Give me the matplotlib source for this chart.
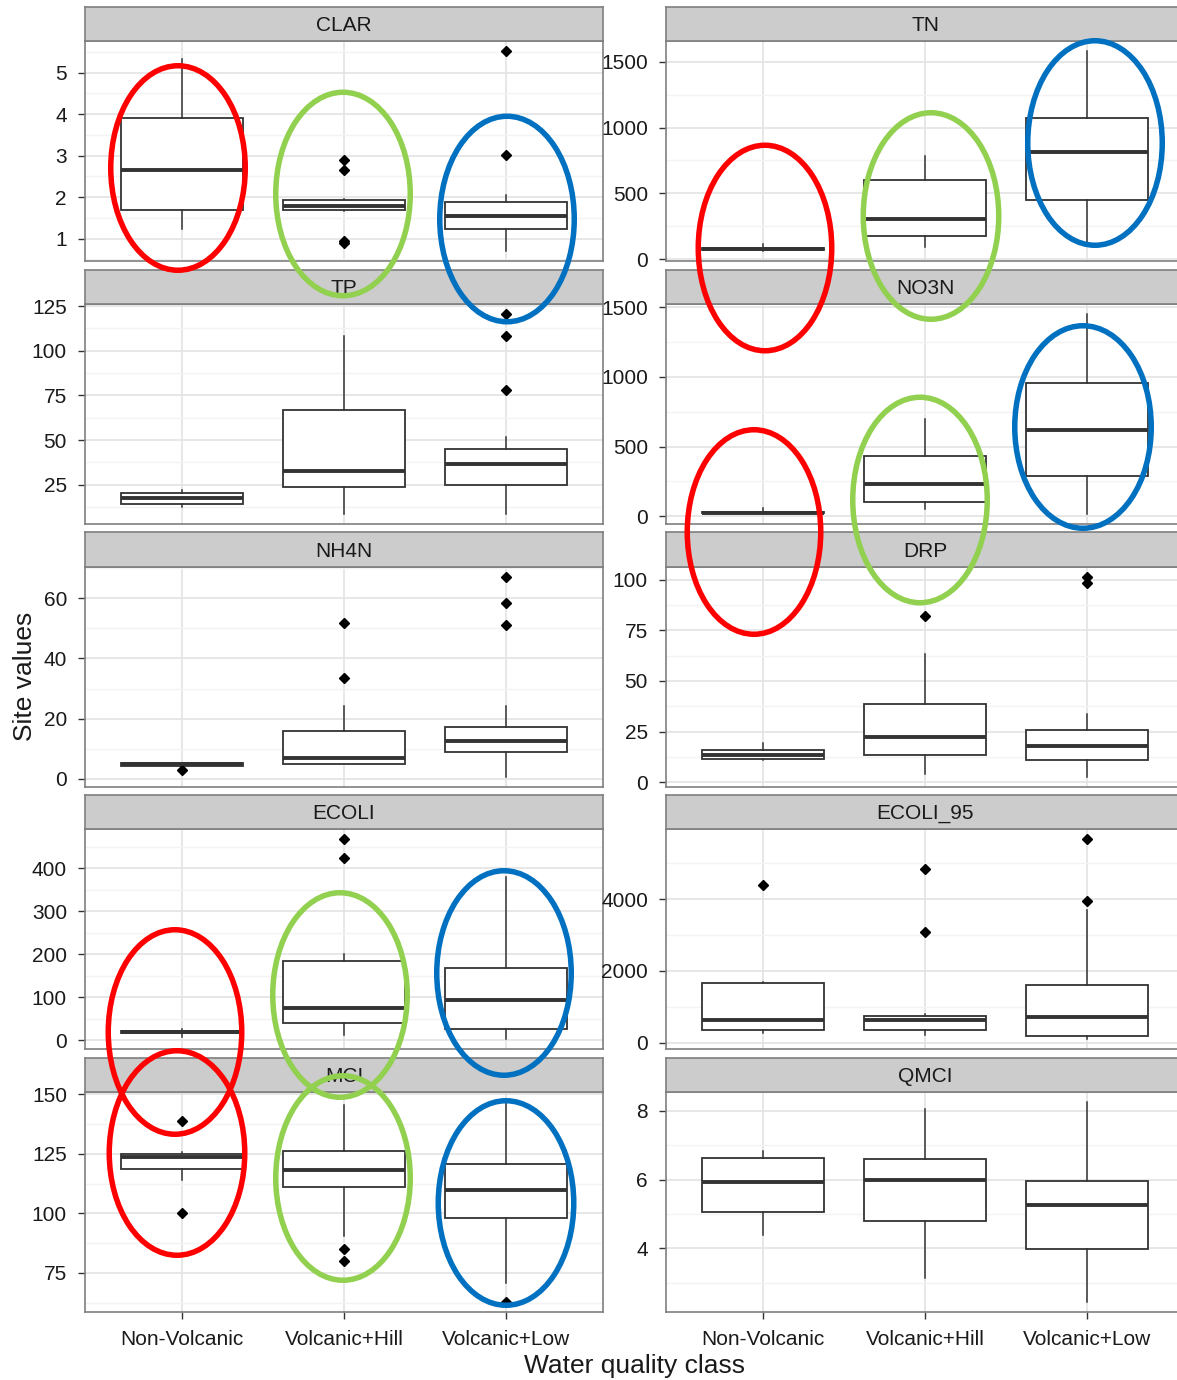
import matplotlib
matplotlib.use("Agg")
import matplotlib.pyplot as plt
from matplotlib import font_manager
from matplotlib.patches import Ellipse
import numpy as np

CLASSES = ["Non-Volcanic", "Volcanic+Hill", "Volcanic+Low"]
PANELS = ["CLAR", "TN", "TP", "NO3N", "NH4N", "DRP", "ECOLI", "ECOLI_95", "MCI", "QMCI"]

# box stats per class: (whisker low, q1, median, q3, whisker high)
CLAR_STATS = [(1.22, 1.69, 2.65, 3.90, 5.32), (1.66, 1.69, 1.78, 1.92, 1.95), (0.70, 1.24, 1.54, 1.89, 2.06)]
CLAR_OUT = [[], [2.90, 2.65, 0.95, 0.90], [5.52, 3.02]]
TN_STATS = [(62, 68, 78, 85, 113), (93, 174, 307, 603, 787), (100, 451, 812, 1075, 1582)]
TN_OUT = [[], [], []]
TP_STATS = [(12.5, 14.3, 17.7, 20.3, 22.2), (8.7, 23.9, 32.9, 66.6, 108.5), (8.7, 24.7, 36.6, 45.1, 51.6)]
TP_OUT = [[], [], [120.7, 108.5, 77.9]]
NO3N_STATS = [(18, 20, 26, 32, 62), (55, 103, 231, 429, 698), (19, 287, 620, 952, 1452)]
NO3N_OUT = [[], [], []]
NH4N_STATS = [(4.4, 4.4, 4.9, 5.3, 5.3), (4.8, 5.0, 6.9, 16.0, 24.1), (0.8, 8.9, 12.5, 17.1, 24.1)]
NH4N_OUT = [[2.9], [51.9, 33.4], [67.2, 58.3, 51.0]]
DRP_STATS = [(11.0, 11.4, 13.6, 15.8, 19.4), (4.0, 13.3, 22.5, 38.5, 63.4), (2.8, 10.8, 17.7, 25.7, 33.5)]
DRP_OUT = [[], [81.8], [101.5, 98.3]]
ECOLI_STATS = [(7.7, 16, 19, 21, 27), (13, 41, 75.9, 185, 201), (2.3, 25.7, 94.6, 169, 381)]
ECOLI_OUT = [[], [467.7, 424], []]
ECOLI95_STATS = [(260, 354, 635, 1663, 1680), (205, 354, 624, 728, 793), (93, 187, 720, 1608, 3700)]
ECOLI95_OUT = [[4405], [4832, 3090], [5669, 3935]]
MCI_STATS = [(114.2, 118.8, 123.5, 124.9, 125.8), (90.5, 110.9, 118.2, 126.1, 145.7), (70.8, 97.9, 109.8, 120.8, 146.8)]
MCI_OUT = [[138.8, 100.3], [85.1, 80.2], [62.8]]
QMCI_STATS = [(4.40, 5.05, 5.94, 6.64, 6.84), (3.13, 4.80, 5.98, 6.59, 8.05), (2.44, 3.97, 5.26, 5.96, 8.26)]
QMCI_OUT = [[], [], []]

CLAR_TICKS = [1, 2, 3, 4, 5]
TN_TICKS = [0, 500, 1000, 1500]
TP_TICKS = [25, 50, 75, 100, 125]
NO3N_TICKS = [0, 500, 1000, 1500]
NH4N_TICKS = [0, 20, 40, 60]
DRP_TICKS = [0, 25, 50, 75, 100]
ECOLI_TICKS = [0, 100, 200, 300, 400]
ECOLI95_TICKS = [0, 2000, 4000]
MCI_TICKS = [75, 100, 125, 150]
QMCI_TICKS = [4, 6, 8]

PANEL_DATA = {
    "CLAR": (CLAR_STATS, CLAR_OUT, CLAR_TICKS),
    "TN": (TN_STATS, TN_OUT, TN_TICKS),
    "TP": (TP_STATS, TP_OUT, TP_TICKS),
    "NO3N": (NO3N_STATS, NO3N_OUT, NO3N_TICKS),
    "NH4N": (NH4N_STATS, NH4N_OUT, NH4N_TICKS),
    "DRP": (DRP_STATS, DRP_OUT, DRP_TICKS),
    "ECOLI": (ECOLI_STATS, ECOLI_OUT, ECOLI_TICKS),
    "ECOLI_95": (ECOLI95_STATS, ECOLI95_OUT, ECOLI95_TICKS),
    "MCI": (MCI_STATS, MCI_OUT, MCI_TICKS),
    "QMCI": (QMCI_STATS, QMCI_OUT, QMCI_TICKS),
}

# hand-drawn highlight ellipses (figure pixels: centre x, centre y, width, height)
ELLIPSE_COLORS = {"red": "#FF0000", "green": "#92D050", "blue": "#0070C0"}
ELLIPSES = [
    ("red", 178, 168, 140, 210),
    ("green", 343, 194, 140, 209),
    ("blue", 507, 219, 140, 211),
    ("red", 765, 248, 139, 211),
    ("green", 931, 216, 141, 212),
    ("blue", 1095, 143, 140, 210),
    ("red", 754, 532, 139, 210),
    ("green", 920, 500, 140, 211),
    ("blue", 1083, 427, 142, 208),
    ("red", 175, 1032, 139, 210),
    ("green", 340, 995, 140, 210),
    ("blue", 504, 973, 140, 210),
    ("red", 177, 1153, 141, 210),
    ("green", 343, 1178, 140, 210),
    ("blue", 506, 1203, 141, 210),
]

avail = {f.name for f in font_manager.fontManager.ttflist}
NARROW = "Liberation Sans Narrow" if "Liberation Sans Narrow" in avail else "Liberation Sans"
plt.rcParams["font.family"] = [NARROW, "DejaVu Sans"]

W, H = 1177, 1380
COL_X = [85, 666]
PANEL_W = 518
ROW_TOP0 = 7
ROW_PITCH = 262.75
STRIP_H = 34
PLOT_H = 220
TEXT_COL = "#1a1a1a"
BORDER = "#7F7F7F"


def frac(x0, y0, w, h):
    return [x0 / W, 1 - (y0 + h) / H, w / W, h / H]


fig = plt.figure(figsize=(W / 100, H / 100), dpi=100)

for i, name in enumerate(PANELS):
    row, col = divmod(i, 2)
    top = ROW_TOP0 + row * ROW_PITCH
    stats_raw, outliers, ticks = PANEL_DATA[name]

    ax = fig.add_axes(frac(COL_X[col], top + STRIP_H, PANEL_W, PLOT_H))
    stats = []
    for (lo, q1, med, q3, hi), out in zip(stats_raw, outliers):
        stats.append({"whislo": lo, "q1": q1, "med": med, "q3": q3, "whishi": hi, "fliers": out})
    ax.bxp(
        stats,
        positions=[1, 2, 3],
        widths=0.75,
        showcaps=False,
        patch_artist=True,
        boxprops=dict(facecolor="white", edgecolor="#333333", linewidth=1.3),
        medianprops=dict(color="#333333", linewidth=2.8),
        whiskerprops=dict(color="#333333", linewidth=1.1),
        flierprops=dict(marker="D", markersize=4.8, markerfacecolor="black", markeredgecolor="black"),
        zorder=3,
    )

    # ggplot-style limits: data range plus 5% on each side
    vals = [v for s in stats_raw for v in (s[0], s[4])] + [v for o in outliers for v in o]
    lo, hi = min(vals), max(vals)
    pad = 0.05 * (hi - lo)

    step = ticks[1] - ticks[0]
    minor = np.arange(ticks[0] - step / 2, ticks[-1] + step, step)
    ax.set_yticks(ticks)
    ax.set_yticks(minor, minor=True)
    ax.set_ylim(lo - pad, hi + pad)
    ax.set_xlim(0.4, 3.6)
    ax.set_xticks([1, 2, 3])
    ax.set_axisbelow(True)
    ax.grid(which="major", color="#E3E3E3", linewidth=1.2)
    ax.grid(which="minor", axis="y", color="#F3F3F3", linewidth=1.0)
    ax.tick_params(axis="y", which="minor", length=0)
    ax.tick_params(axis="both", which="major", direction="out", length=5, width=1,
                   color="#333333", labelsize=15, labelcolor=TEXT_COL, pad=8)
    for sp in ax.spines.values():
        sp.set_color(BORDER)
        sp.set_linewidth(1.2)
    if row == 4:
        ax.set_xticklabels(CLASSES)
        ax.tick_params(axis="x", pad=8)
    else:
        ax.tick_params(axis="x", length=0, labelbottom=False)

    sax = fig.add_axes(frac(COL_X[col], top, PANEL_W, STRIP_H))
    sax.set_facecolor("#CCCCCC")
    sax.set_xticks([])
    sax.set_yticks([])
    for sp in sax.spines.values():
        sp.set_color(BORDER)
        sp.set_linewidth(1.2)
    sax.text(0.5, 0.45, name, ha="center", va="center", fontsize=15, color=TEXT_COL,
             transform=sax.transAxes)

fig.text(25 / W, 1 - 676 / H, "Site values", rotation=90, ha="center", va="center",
         fontsize=19, color=TEXT_COL, family=["Liberation Sans", "DejaVu Sans"])
fig.text(634 / W, 1 - 1366 / H, "Water quality class", ha="center", va="center",
         fontsize=19, color=TEXT_COL)

oax = fig.add_axes([0, 0, 1, 1], zorder=10)
oax.set_xlim(0, W)
oax.set_ylim(H, 0)
oax.axis("off")
oax.patch.set_alpha(0)
lw_px = 5.5
for colour, cx, cy, ew, eh in ELLIPSES:
    oax.add_patch(Ellipse((cx, cy), ew - lw_px, eh - lw_px, fill=False,
                          edgecolor=ELLIPSE_COLORS[colour], linewidth=lw_px * 0.72))

fig.savefig("out.png", dpi=100)
